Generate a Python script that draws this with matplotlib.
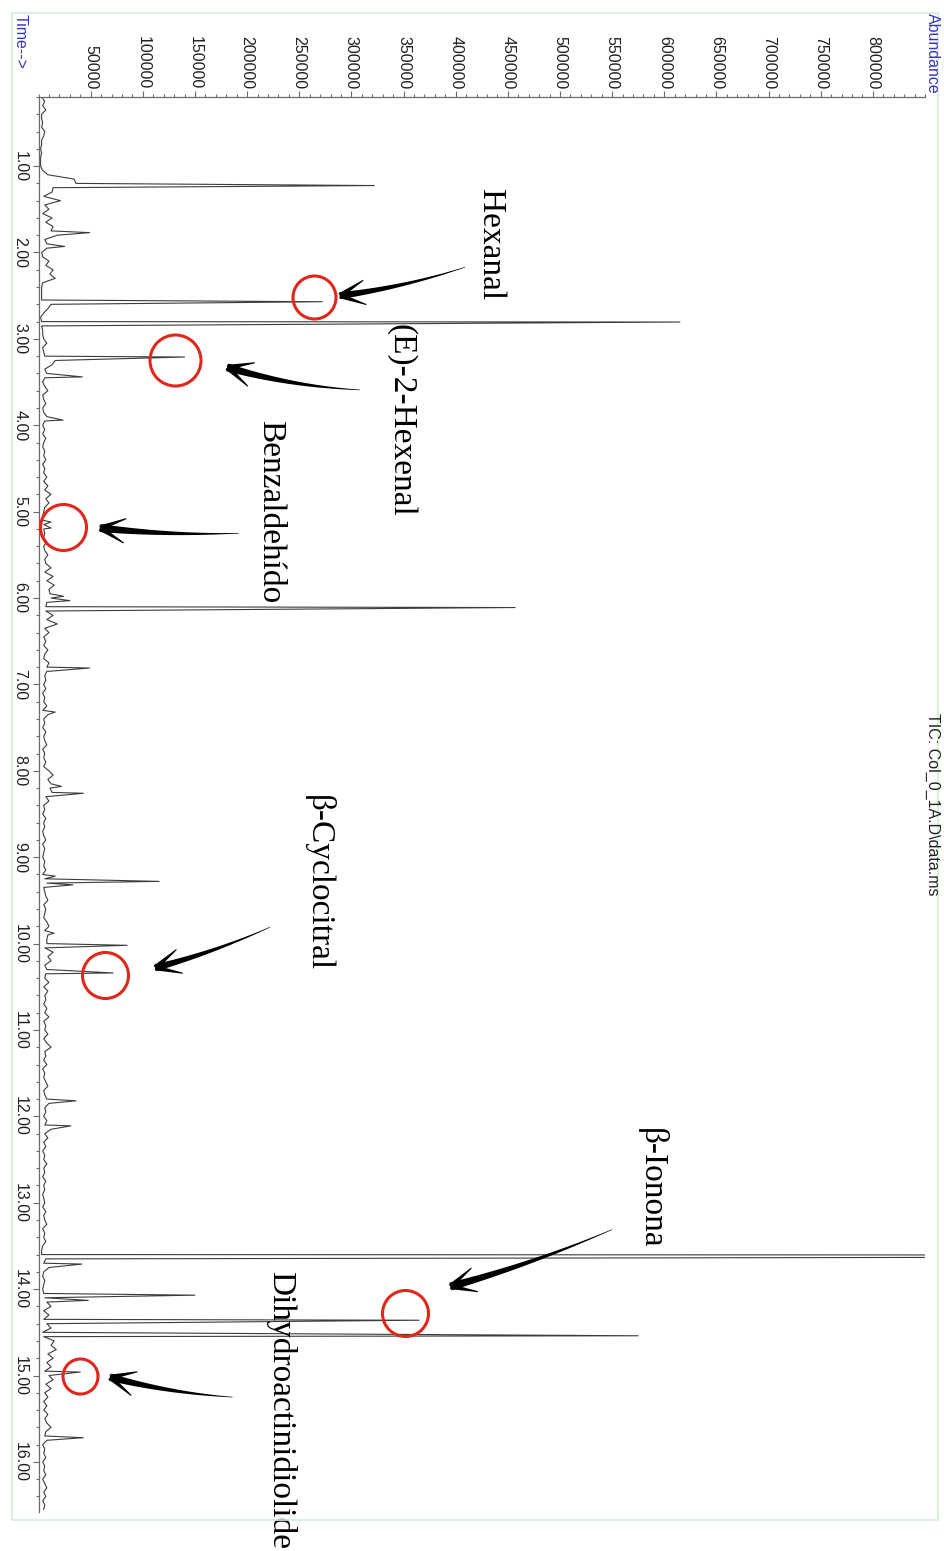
import numpy as np
import matplotlib
matplotlib.use("Agg")
import matplotlib.pyplot as plt
from matplotlib.patches import Polygon, Rectangle
from matplotlib.ticker import MultipleLocator
from matplotlib.transforms import IdentityTransform

# ---- TIC trace (abundance in thousands) ----
# slow part of the signal, one scan every 0.05 min starting at 0.20 min
SCAN_START = 0.20
SCAN_STEP = 0.05
scan_k = (
    [3, 6, 4, 7, 3, 3, 4, 3, 6, 5, 3, 3, 2, 3, 2, 2]                      # 0.20-0.95
    + [2, 4, 9, 34, 36, 14, 13, 5, 21, 6, 10, 4, 13, 7, 14, 12, 18, 6, 8, 8]   # 1
    + [3, 4, 10, 7, 14, 11, 16, 4, 3, 3, 3, 3, 12, 9, 5, 2, 3, 3, 4, 4]        # 2
    + [5, 8, 4, 5, 6, 16, 13, 6, 8, 6, 4, 6, 9, 4, 5, 7, 4, 5, 8, 6]           # 3
    + [4, 6, 4, 7, 5, 4, 6, 5, 7, 4, 6, 5, 8, 5, 9, 6, 12, 7, 10, 6]           # 4
    + [5, 4, 4, 5, 5, 6, 5, 8, 5, 6, 9, 6, 7, 12, 6, 14, 8, 15, 10, 11]        # 5
    + [12, 8, 7, 7, 14, 8, 18, 6, 10, 5, 7, 5, 9, 6, 5, 10, 8, 8, 6, 7]        # 6
    + [5, 7, 4, 6, 5, 8, 4, 9, 5, 6, 4, 7, 5, 6, 8, 4, 6, 5, 7, 5]             # 7
    + [10, 14, 9, 12, 11, 13, 7, 10, 5, 6, 4, 7, 5, 6, 4, 5, 7, 4, 6, 5]       # 8
    + [4, 6, 5, 7, 4, 6, 8, 5, 6, 7, 9, 5, 7, 6, 5, 8, 10, 6, 9, 8]            # 9
    + [8, 6, 14, 9, 12, 6, 8, 7, 6, 10, 5, 9, 6, 7, 5, 8, 6, 10, 5, 7]         # 10
    + [6, 9, 5, 8, 12, 6, 7, 5, 8, 4, 6, 5, 7, 9, 5, 6, 8, 10, 6, 7]           # 11
    + [5, 8, 6, 12, 6, 9, 5, 7, 4, 6, 5, 8, 5, 6, 4, 7, 5, 6, 4, 5]            # 12
    + [6, 4, 7, 5, 6, 8, 4, 6, 5, 7, 4, 3, 3, 7, 5, 10, 5, 4, 6, 5]            # 13
    + [4, 5, 6, 8, 12, 5, 10, 5, 8, 12, 4, 5, 15, 12, 17, 9, 14, 8, 12, 6]     # 14
    + [10, 14, 7, 12, 6, 9, 5, 8, 5, 9, 6, 8, 12, 7, 6, 8, 4, 6, 5, 7]         # 15
    + [4, 6, 5, 7, 4, 6, 8, 5, 7, 4, 6, 5]                                     # 16
)

# sharp peaks: apex time (min) and apex abundance (thousands)
peak_t = [1.225, 1.77, 1.93, 2.57, 2.805, 3.21, 3.44, 3.94, 5.12, 5.19, 5.98,
          6.03, 6.11, 6.81, 7.32, 8.18, 8.26, 9.22, 9.28, 9.32, 9.88, 10.02,
          10.34, 11.82, 12.11, 13.61, 13.71, 14.07, 14.13, 14.36, 14.54,
          14.96, 15.72]
peak_k = [322, 49, 25, 272, 615, 140, 42, 23.5, 12, 12, 24,
          30, 457, 49, 16, 22, 43, 16, 115.6, 33, 15, 85,
          71.5, 36, 31, 2000, 41.6, 150, 47.7, 365, 575,
          40, 43]

abund_ticks = list(range(50000, 800001, 50000))
time_ticks = list(range(1, 17))

# ---- annotations ----
compounds = ["Hexanal", "(E)-2-Hexenal", "Benzaldehído", "β-Cyclocitral",
             "β-Ionona", "Dihydroactinidiolide"]
label_pos = [(433e3, 1.91), (347e3, 3.94), (222e3, 5.00), (268e3, 9.30),
             (588e3, 12.83), (232e3, 15.40)]
circle_pos = [(264e3, 2.51), (131e3, 3.245), (23.5e3, 5.18), (63.8e3, 10.36),
              (351e3, 14.28), (39.8e3, 15.00)]
circle_diam = [43, 51, 46, 46, 46, 35]  # px
arrow_tail = [(409e3, 2.17), (308e3, 3.59), (192e3, 5.25), (222e3, 9.81),
              (550e3, 13.31), (186e3, 15.25)]
arrow_head = [(289e3, 2.50), (181e3, 3.33), (59e3, 5.19), (112e3, 10.28),
              (395e3, 13.97), (68.6e3, 15.02)]
arrow_bow = [6, 8, 5, 5, 6, 6]  # px, towards the bottom of the page
arrow_width = [7.0, 8.0, 8.0, 7.0, 8.0, 7.5]

W, H = 945, 1551
BLUE = "#3434c4"
RED = "#e2261c"

fig = plt.figure(figsize=(W / 100, H / 100), dpi=100)
ax = fig.add_axes([38.5 / W, 39 / H, 886.5 / W, 1415 / H])

scan_t = SCAN_START + SCAN_STEP * np.arange(len(scan_k))
t_all = np.concatenate([scan_t, peak_t])
k_all = np.concatenate([scan_k, peak_k])
order = np.argsort(t_all)
ax.plot(k_all[order] * 1000, t_all[order], color="#3c3c3c", lw=0.8)

ax.set_xlim(0, 850000)
ax.set_ylim(16.58, 0.20)

ax.xaxis.tick_top()
ax.set_xticks(abund_ticks)
ax.set_xticklabels([str(v) for v in abund_ticks], rotation=-90)
ax.xaxis.set_minor_locator(MultipleLocator(10000))
ax.set_yticks(time_ticks)
ax.set_yticklabels([f"{v:.2f}" for v in time_ticks], rotation=-90, va="center")
ax.yaxis.set_minor_locator(MultipleLocator(0.2))

for side in ["right", "bottom"]:
    ax.spines[side].set_visible(False)
for side in ["left", "top"]:
    ax.spines[side].set_color("#6a6a6a")
    ax.spines[side].set_linewidth(0.9)

ax.tick_params(which="both", direction="out", color="#6a6a6a", width=0.8,
               labelsize=11.5, labelcolor="#202020", labelfontfamily="Liberation Sans")
ax.tick_params(which="major", length=4, pad=4)
ax.tick_params(axis="x", which="major", pad=1.5)
ax.tick_params(which="minor", length=2.5)

# axis captions and file name
fig.text(20 / W, 1 - 14 / H, "Time-->", rotation=-90, ha="center", va="top",
         color=BLUE, fontsize=11.5, family="Liberation Sans")
fig.text(932 / W, 1 - 13 / H, "Abundance", rotation=-90, ha="center", va="top",
         color=BLUE, fontsize=11.5, family="Liberation Sans")
fig.text(933 / W, 1 - 804 / H, r"TIC: Col_0_1A.D\data.ms", rotation=-90,
         ha="center", va="center", color="#202020", fontsize=11.5,
         family="Liberation Sans")

fig.add_artist(Rectangle((12 / W, 1 - 1520 / H), 926 / W, 1507 / H,
                         transform=fig.transFigure, fill=False,
                         ec="#d6ecd6", lw=1.2))

# compound labels and red circles
for name, (a, t) in zip(compounds, label_pos):
    ax.text(a, t, name, rotation=-90, ha="center", va="center", fontsize=24,
            family="Liberation Serif", color="black", clip_on=False)

for (a, t), d in zip(circle_pos, circle_diam):
    ax.plot(a, t, "o", ms=d * 0.72, mfc="none", mec=RED, mew=2.2,
            clip_on=False, zorder=4)


def tapered_arrow(tail, head, bow, wmax):
    p0 = ax.transData.transform(tail)
    p2 = ax.transData.transform(head)
    d = p2 - p0
    u = d / np.hypot(*d)
    n = np.array([-u[1], u[0]])
    if n[1] > 0:
        n = -n
    p1 = (p0 + p2) / 2 + n * bow
    s = np.linspace(0, 1, 80)[:, None]
    pts = (1 - s) ** 2 * p0 + 2 * (1 - s) * s * p1 + s ** 2 * p2
    tan = 2 * (1 - s) * (p1 - p0) + 2 * s * (p2 - p1)
    tan = tan / np.hypot(tan[:, 0], tan[:, 1])[:, None]
    nor = np.column_stack([-tan[:, 1], tan[:, 0]])
    w = (0.6 + (wmax - 0.6) * s[:, 0] ** 1.2)[:, None] / 2
    shaft = np.vstack([pts + nor * w, (pts - nor * w)[::-1]])
    fig.add_artist(Polygon(shaft, closed=True, fc="black", ec="none",
                           transform=IdentityTransform(), zorder=5))
    back = -tan[-1]
    for sgn in (1, -1):
        ang = np.deg2rad(26 * sgn)
        rot = np.array([[np.cos(ang), -np.sin(ang)], [np.sin(ang), np.cos(ang)]])
        adir = rot @ back
        aper = np.array([-adir[1], adir[0]])
        end = p2 + adir * 28
        arm = np.array([p2 + aper * 2.6, end + aper * 0.5,
                        end - aper * 0.5, p2 - aper * 2.6])
        fig.add_artist(Polygon(arm, closed=True, fc="black", ec="none",
                               transform=IdentityTransform(), zorder=5))


for tail, head, bow, wmax in zip(arrow_tail, arrow_head, arrow_bow, arrow_width):
    tapered_arrow(tail, head, bow, wmax)

fig.savefig("out.png", dpi=100)
